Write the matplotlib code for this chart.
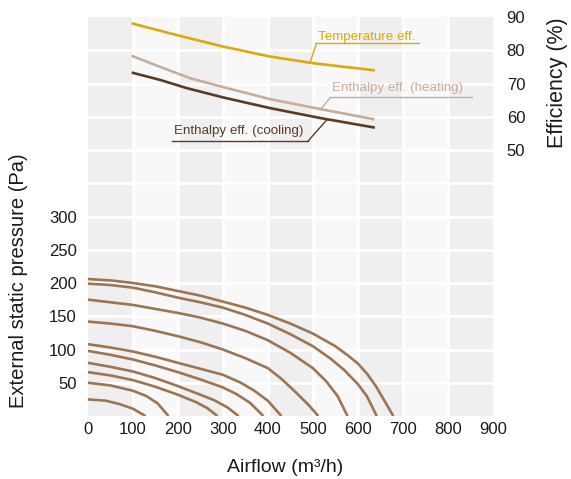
import matplotlib
matplotlib.use("Agg")
import matplotlib.pyplot as plt

plt.rcParams['font.family'] = ['Liberation Sans', 'DejaVu Sans']

# axis ticks
airflow_ticks = [0, 100, 200, 300, 400, 500, 600, 700, 800, 900]
pressure_ticks = [50, 100, 150, 200, 250, 300]
eff_ticks = [50, 60, 70, 80, 90]

# fan curves (airflow m3/h, pressure Pa), lowest to highest
fan_airflow = [
    [0, 40, 70, 100, 128],
    [0, 50, 100, 130, 155, 179],
    [0, 50, 100, 150, 200, 240, 265, 288],
    [0, 50, 100, 150, 200, 250, 280, 310, 335],
    [0, 50, 100, 150, 200, 250, 300, 330, 360, 390],
    [0, 50, 100, 150, 200, 250, 300, 340, 370, 400, 430],
    [0, 50, 100, 150, 200, 250, 300, 350, 400, 430, 460, 490, 512],
    [0, 50, 100, 150, 200, 250, 300, 350, 400, 450, 500, 530, 555, 577],
    [0, 50, 100, 150, 200, 250, 300, 350, 400, 450, 500, 540, 570, 600, 620, 642],
    [0, 50, 100, 150, 200, 250, 300, 350, 400, 450, 500, 550, 580, 600, 620, 640, 660, 679],
]
fan_pressure = [
    [25, 23, 18, 11, 0],
    [50, 46, 38, 30, 19, 0],
    [66, 61, 54, 44, 32, 21, 12, 0],
    [80, 74, 67, 57, 45, 32, 24, 13, 0],
    [98, 92, 85, 76, 66, 55, 43, 33, 20, 0],
    [108, 103, 97, 89, 80, 71, 62, 50, 38, 23, 0],
    [142, 139, 135, 128, 120, 111, 100, 87, 72, 56, 37, 17, 0],
    [175, 171, 167, 161, 155, 148, 139, 128, 114, 95, 72, 52, 30, 0],
    [199, 197, 193, 186, 178, 171, 163, 152, 139, 123, 105, 86, 69, 48, 30, 0],
    [206, 204, 200, 195, 188, 181, 172, 163, 152, 139, 124, 105, 90, 79, 64, 45, 22, 0],
]

# efficiency curves (%)
temp_airflow = [100, 205, 301, 405, 501, 635]
temp_eff = [88.0, 84.3, 81.1, 78.1, 76.1, 74.0]
heat_airflow = [100, 168, 227, 301, 405, 517, 634]
heat_eff = [78.2, 74.6, 71.6, 68.9, 65.3, 62.3, 59.3]
cool_airflow = [100, 160, 220, 301, 405, 517, 635]
cool_eff = [73.2, 71.1, 68.6, 65.8, 62.6, 59.6, 56.8]

gold = '#d8aa0c'
tan = '#c7ae9b'
dark = '#5b3b24'
fan_col = '#9c7652'

fig = plt.figure(figsize=(5.71, 4.79), dpi=100)
ax = fig.add_axes([0.154, 0.1315, 0.709, 0.833])
ax2 = ax.twinx()

# alternating column shading
for i in range(9):
    ax.axvspan(i * 100, (i + 1) * 100, color='#efefef' if i % 2 == 0 else '#f8f8f8',
               lw=0, zorder=0.1)
for x in range(100, 900, 100):
    ax.axvline(x, color='white', lw=2, zorder=0.2)
for p in range(50, 600, 50):
    ax.axhline(p, color='white', lw=2, zorder=0.2)

for xs, ps in zip(fan_airflow, fan_pressure):
    ax.plot(xs, ps, color=fan_col, lw=1.9, solid_capstyle='butt', zorder=2)

ax.set_xlim(0, 900)
ax.set_ylim(0, 600)
ax.set_xticks(airflow_ticks)
ax.set_yticks(pressure_ticks)
ax.tick_params(length=0, labelsize=12, colors='#1a1a1a')
ax.tick_params(axis='x', pad=4)
ax.tick_params(axis='y', pad=8)
for s in ax.spines.values():
    s.set_visible(False)

ax2.plot(temp_airflow, temp_eff, color=gold, lw=1.9)
ax2.plot(heat_airflow, heat_eff, color=tan, lw=1.9)
ax2.plot(cool_airflow, cool_eff, color=dark, lw=1.9)
ax2.set_ylim(-30, 90)
ax2.set_yticks(eff_ticks)
ax2.tick_params(length=0, labelsize=12, pad=10, colors='#1a1a1a')
for s in ax2.spines.values():
    s.set_visible(False)

# labels with underline and leader line
def tag(text, color, x0, x1, y_line, y_text, lx, ly, leader_from):
    ax2.text(x0 + 4, y_text, text, color=color, fontsize=9.6, va='center', ha='left')
    ax2.plot([x0, x1], [y_line, y_line], color=color, lw=1)
    ax2.plot([leader_from, lx], [y_line, ly], color=color, lw=1)

tag('Temperature eff.', gold, 508, 735, 82.1, 84.1, 494, 76.3, 508)
tag('Enthalpy eff. (heating)', tan, 539, 853, 65.8, 68.6, 517, 62.2, 539)
tag('Enthalpy eff. (cooling)', dark, 187, 490, 52.8, 55.6, 532, 59.2, 490)

fig.text(0.5, 0.025, 'Airflow (m³/h)', ha='center', va='center', fontsize=14, color='#1a1a1a')
fig.text(0.032, 0.415, 'External static pressure (Pa)', rotation=90, ha='center', va='center',
         fontsize=14.5, color='#1a1a1a')
fig.text(0.977, 0.827, 'Efficiency (%)', rotation=90, ha='center', va='center',
         fontsize=15.5, color='#1a1a1a')

fig.savefig('out.png', dpi=100)
